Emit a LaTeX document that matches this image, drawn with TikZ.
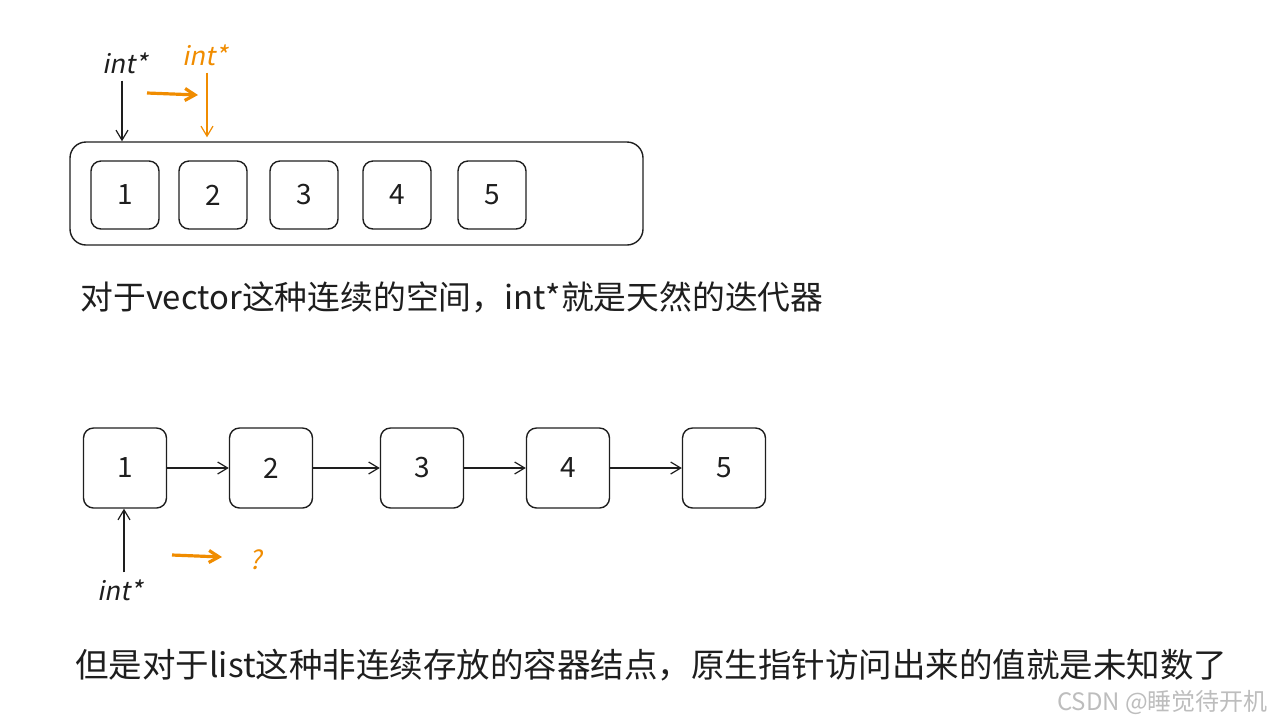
\documentclass[tikz,border=0pt]{standalone}
\usepackage{fontspec}
\setmainfont{Noto Sans CJK SC}[ItalicFont=Noto Sans CJK SC, ItalicFeatures={FakeSlant=0.2}]
\usetikzlibrary{arrows.meta, positioning}
\definecolor{ink}{HTML}{1E1E1E}
\definecolor{hand}{HTML}{F08C00}
\definecolor{mark}{HTML}{BDBDBD}

\begin{document}
\begin{tikzpicture}[x=0.5pt, y=-0.5pt, on grid, >={Straight Barb[length=5pt,width=6pt]},
  cell/.style={draw=ink, line width=0.7pt, rounded corners=5pt, minimum width=34pt,
    minimum height=34pt, font=\fontsize{14}{16}\selectfont, text=ink},
  lcell/.style={cell, minimum width=41.5pt, minimum height=40pt},
  ptrtext/.style={font=\fontsize{13}{15}\selectfont\itshape},
  note/.style={anchor=west, inner sep=0pt, font=\fontsize{16.4}{20}\selectfont, text=ink}]
  \useasboundingbox (0,0) rectangle (1279,725);

  % vector
  \node[draw=ink, line width=0.7pt, rounded corners=8pt, minimum width=286.5pt,
    minimum height=51.5pt] (vec) at (356.5,193.5) {};
  \node[cell] (v1) at (125,195) {1};
  \node[cell] (v2) [right=44pt of v1] {2};
  \node[cell] (v3) [right=45.5pt of v2] {3};
  \node[cell] (v4) [right=46.5pt of v3] {4};
  \node[cell] (v5) [right=47.5pt of v4] {5};

  \node[ptrtext, text=ink] (ptr) at (125,63) {int*};
  \node[ptrtext, text=hand] (nptr) at (205,55) {int*};
  \coordinate (mvA) at (147,93);
  \coordinate (mvB) at (198,95);
  \draw[->, ink, line width=0.6pt] ([xshift=-1.5pt]ptr.south) -- ([xshift=-1.5pt]ptr.south |- vec.north);
  \draw[->, hand, line width=0.6pt] ([xshift=1pt]nptr.south) -- ([xshift=1pt,yshift=2pt]nptr.south |- vec.north);
  \draw[->, hand, line width=1.6pt] (mvA) -- (mvB);

  \node[note] (t1) at (80,297) {对于vector这种连续的空间，int*就是天然的迭代器};

  % list
  \node[lcell] (l1) at (125,468) {1};
  \node[lcell] (l2) [right=73pt of l1] {2};
  \node[lcell] (l3) [right=75.5pt of l2] {3};
  \node[lcell] (l4) [right=73pt of l3] {4};
  \node[lcell] (l5) [right=78pt of l4] {5};
  \path[->, draw=ink, line width=0.6pt]
  (l1) edge (l2)
  (l2) edge (l3)
  (l3) edge (l4)
  (l4) edge (l5)
  ;

  \node[ptrtext, text=ink] (lptr) at (120,590) {int*};
  \draw[->, ink, line width=0.6pt] ([xshift=2pt]lptr.north) -- ([xshift=2pt]lptr.north |- l1.south);
  \coordinate (qA) at (172,555);
  \coordinate (qB) at (222,557);
  \draw[->, hand, line width=1.6pt] (qA) -- (qB);
  \node[ptrtext, text=hand] (qm) at (256,560) {?};

  \node[note, font=\fontsize{16.75}{20}\selectfont] (t2) at (75,665) {但是对于list这种非连续存放的容器结点，原生指针访问出来的值就是未知数了};
  \node[anchor=east, text=mark, font=\fontsize{12}{14}\selectfont] (wm) at (1275,702) {CSDN @睡觉待开机};
\end{tikzpicture}
\end{document}
